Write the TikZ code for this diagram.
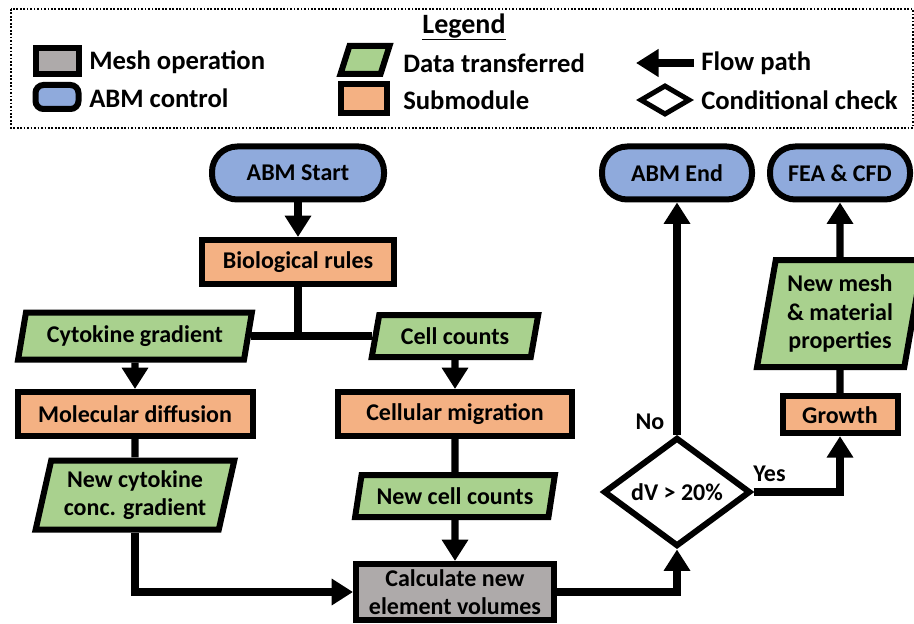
\documentclass[tikz,border=0pt]{standalone}
\usepackage{fontspec}
\setmainfont{Carlito}
\usetikzlibrary{shapes.geometric, arrows.meta, positioning}

\definecolor{meshgray}{HTML}{AEAAAA}
\definecolor{abmblue}{HTML}{8FAADC}
\definecolor{datagreen}{HTML}{A9D18E}
\definecolor{suborange}{HTML}{F4B183}

\newcommand{\flowfont}{\fontsize{18}{21.5}\selectfont\bfseries}
\newcommand{\legfont}{\fontsize{20}{24}\selectfont\bfseries}

\tikzstyle{boxMesh} = [rectangle, draw=black, line width=4.5pt, fill=meshgray, font=\flowfont, align=center, inner sep=2pt]
\tikzstyle{boxControl} = [rectangle, rounded corners=19pt, draw=black, line width=4.5pt, fill=abmblue, font=\flowfont, inner sep=2pt]
\tikzstyle{boxSub} = [rectangle, draw=black, line width=4.5pt, fill=suborange, font=\flowfont, inner sep=2pt]
\tikzstyle{boxData} = [trapezium, trapezium left angle=76, trapezium right angle=104, trapezium stretches=true, draw=black, line width=4.5pt, fill=datagreen, font=\flowfont, align=center, inner sep=2pt]
\tikzstyle{boxCheck} = [diamond, draw=black, line width=4.5pt, fill=white, font=\flowfont, inner sep=0pt]
\tikzstyle{legText} = [anchor=west, inner sep=0pt, font=\legfont]
\tikzstyle{legFrame} = [draw=black, line width=1.3pt, dash pattern=on 1.3pt off 1.3pt]
\tikzstyle{arrow} = [line width=5.5pt, -{Triangle[width=19pt,length=16pt]}]
\tikzstyle{link} = [line width=5.5pt]

\begin{document}
\begin{tikzpicture}[x=0.75pt, y=-0.75pt, on grid]
\useasboundingbox (0,0) rectangle (914,624);

% legend
\draw [legFrame] (11,9) rectangle (913,128);
\node (legTitle) at (464,27) [font={\fontsize{21}{25}\selectfont\bfseries}] {\underline{Legend}};

\node (legMesh) at (57,61) [boxMesh, minimum width=32.25pt, minimum height=19.5pt] {};
\node (legControl) at (57,97) [boxControl, rounded corners=6pt, minimum width=32.25pt, minimum height=18pt] {};
\node (legData) at (365,60) [boxData, trapezium left angle=74, trapezium right angle=106, minimum width=36.75pt, minimum height=21pt] {};
\node (legSub) at (364,99) [boxSub, minimum width=34.5pt, minimum height=21.75pt] {};
\coordinate (legFlowA) at (694,63);
\coordinate (legFlowB) at (636,63);
\draw [line width=6pt, -{Triangle[width=20pt,length=17pt]}] (legFlowA) -- (legFlowB);
\node (legCheck) at (665,100) [boxCheck, line width=3.75pt, minimum width=37.5pt, minimum height=22.5pt] {};

\node (txtMesh) at (89,62) [legText] {Mesh operation};
\node (txtControl) at (89,98) [legText] {ABM control};
\node (txtData) at (403,63) [legText] {Data transferred};
\node (txtSub) at (403,100) [legText] {Submodule};
\node (txtFlow) at (701,63) [legText] {Flow path};
\node (txtCheck) at (701,100) [legText] {Conditional check};

% flow chart
\node (start) at (298,173) [boxControl, minimum width=129pt, minimum height=39.75pt] {ABM Start};
\node (bio) [boxSub, below=66.75pt of start, minimum width=144pt, minimum height=33pt] {Biological rules};
\node (cyto) [boxData, below left=55.5pt and 122.25pt of bio, minimum width=175.5pt, minimum height=35.25pt] {Cytokine gradient};
\node (cells) [boxData, below right=55.5pt and 117.75pt of bio, minimum width=126pt, minimum height=31.5pt] {Cell counts};
\node (moldiff) [boxSub, below=58.5pt of cyto, minimum width=176.25pt, minimum height=33pt] {Molecular diffusion};
\node (cellmig) [boxSub, below=58.5pt of cells, minimum width=175.5pt, minimum height=33pt] {Cellular migration};
\node (newcyto) [boxData, below=60.75pt of moldiff, minimum width=149.25pt, minimum height=51.75pt] {New cytokine\\conc. gradient};
\node (newcells) [boxData, below=61.5pt of cellmig, minimum width=150pt, minimum height=31.5pt] {New cell counts};
\node (calc) [boxMesh, below=72pt of newcells, minimum width=148.5pt, minimum height=42pt] {Calculate new\\element volumes};
\node (check) [boxCheck, right=166.5pt of newcells, yshift=3pt, minimum width=110.25pt, minimum height=81.75pt] {dV > 20\%};
\node (abmend) [boxControl, above=239.25pt of check, minimum width=112.5pt, minimum height=39.75pt] {ABM End};
\node (fea) [boxControl, right=122.25pt of abmend, minimum width=105pt, minimum height=39.75pt] {FEA \& CFD};
\node (growth) [boxSub, below=181.25pt of fea, minimum width=86.25pt, minimum height=27.75pt] {Growth};
\node (mesh) [boxData, trapezium left angle=79, trapezium right angle=101, above=75.75pt of growth, minimum width=124.5pt, minimum height=80.25pt] {New mesh\\\& material\\properties};

\draw [arrow] (start) -- (bio);
\draw [link] (bio.south) |- (cyto.east);
\draw [link] (bio.south) |- (cells.west);
\draw [arrow] (cyto) -- (moldiff);
\draw [arrow] (cells) -- (cellmig);
\draw [link] (moldiff) -- (newcyto);
\draw [link] (cellmig) -- (newcells);
\draw [arrow] (newcells) -- (calc);
\draw [arrow] (newcyto.south) |- (calc.west);
\draw [arrow] (calc.east) -| (check.south);
\draw [arrow] (check.north) -- (abmend.south);
\draw [arrow] (check.east) -| (growth.south);
\draw [link] (growth) -- (mesh);
\draw [arrow] (mesh) -- (fea);

\node (noLabel) at ([xshift=-20.25pt, yshift=9.75pt]check.north) [font=\flowfont] {No};
\node (yesLabel) at ([xshift=12pt, yshift=13.5pt]check.east) [font=\flowfont] {Yes};

\end{tikzpicture}
\end{document}
